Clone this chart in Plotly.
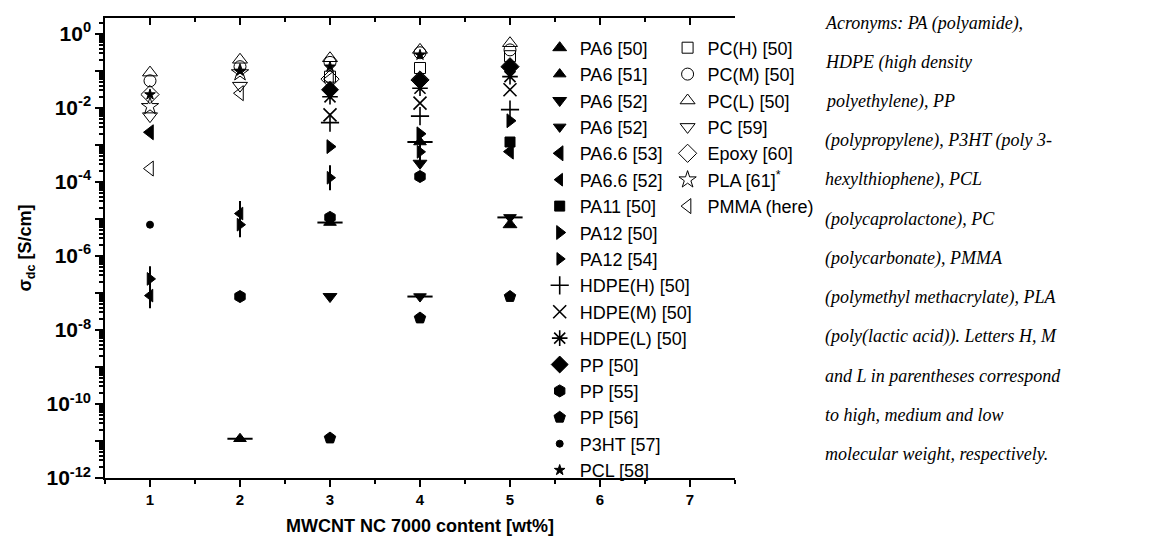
import plotly.graph_objects as go

# ---------------- data (x = wt%, y = S/cm) ----------------
PA6_50_x, PA6_50_y = [5], [7e-6]
PA6_51_x, PA6_51_y = [2, 3, 4], [1.15e-11, 8e-6, 1.2e-3]
PA6_52a_x, PA6_52a_y = [3, 4], [8e-8, 3.2e-4]
PA6_52b_x, PA6_52b_y = [4, 5], [8e-8, 1.1e-5]
PA66_53_x, PA66_53_y = [1, 5], [2.2e-3, 6.6e-4]
PA66_52_x, PA66_52_y = [1, 2], [8.5e-8, 1.4e-5]
PA11_50_x, PA11_50_y = [5], [1.2e-3]
PA12_50_x, PA12_50_y = [3, 4, 5], [9e-4, 2e-3, 4.5e-3]
PA12_54_x, PA12_54_y = [1, 2, 3, 4], [2.4e-7, 7e-6, 1.3e-4, 6.5e-4]
HDPE_H_x, HDPE_H_y = [3, 4, 5], [4e-3, 6e-3, 9e-3]
HDPE_M_x, HDPE_M_y = [3, 4, 5], [6.5e-3, 1.35e-2, 3.1e-2]
HDPE_L_x, HDPE_L_y = [3, 4, 5], [2e-2, 3.4e-2, 7e-2]
PP_50_x, PP_50_y = [3, 4, 5], [3.1e-2, 5.7e-2, 1.3e-1]
PP_55_x, PP_55_y = [2, 3, 4], [8e-8, 1.1e-5, 1.4e-4]
PP_56_x, PP_56_y = [3, 4, 5], [1.2e-11, 2.1e-8, 8e-8]
P3HT_57_x, P3HT_57_y = [1], [7e-6]
PCL_58_x, PCL_58_y = [1, 2, 3, 4], [2.3e-2, 1.0e-1, 1.3e-1, 2.7e-1]
PC_H_x, PC_H_y = [3, 4, 5], [7e-2, 1.2e-1, 2.5e-1]
PC_M_x, PC_M_y = [1, 2, 3, 4, 5], [5.4e-2, 1.3e-1, 1.7e-1, 3.1e-1, 3.7e-1]
PC_L_x, PC_L_y = [1, 2, 3, 4, 5], [9e-2, 2.0e-1, 2.2e-1, 3.7e-1, 5.6e-1]
PC_59_x, PC_59_y = [1, 2], [6e-3, 4e-2]
EPOXY_60_x, EPOXY_60_y = [1, 3, 4, 5], [2.3e-2, 6e-2, 5.7e-2, 1.3e-1]
PLA_61_x, PLA_61_y = [1, 2], [1.1e-2, 9e-2]
PMMA_x, PMMA_y = [1, 2, 3], [2.3e-4, 2.5e-2, 6e-2]

# legend column 1 / column 2
leg1 = [
    ("PA6 [50]", PA6_50_x, PA6_50_y, "triangle-up", 12, None),
    ("PA6 [51]", PA6_51_x, PA6_51_y, "triangle-up", 11, "line-ew"),
    ("PA6 [52]", PA6_52a_x, PA6_52a_y, "triangle-down", 12, None),
    ("PA6 [52]", PA6_52b_x, PA6_52b_y, "triangle-down", 11, "line-ew"),
    ("PA6.6 [53]", PA66_53_x, PA66_53_y, "triangle-left", 13, None),
    ("PA6.6 [52]", PA66_52_x, PA66_52_y, "triangle-left", 11, "line-ns"),
    ("PA11 [50]", PA11_50_x, PA11_50_y, "square", 10, None),
    ("PA12 [50]", PA12_50_x, PA12_50_y, "triangle-right", 12, None),
    ("PA12 [54]", PA12_54_x, PA12_54_y, "triangle-right", 11, "line-ns"),
    ("HDPE(H) [50]", HDPE_H_x, HDPE_H_y, "cross-thin-open", 13, None),
    ("HDPE(M) [50]", HDPE_M_x, HDPE_M_y, "x-thin-open", 13, None),
    ("HDPE(L) [50]", HDPE_L_x, HDPE_L_y, "asterisk-open", 13, None),
    ("PP [50]", PP_50_x, PP_50_y, "diamond", 13, None),
    ("PP [55]", PP_55_x, PP_55_y, "hexagon", 12, None),
    ("PP [56]", PP_56_x, PP_56_y, "pentagon", 12, None),
    ("P3HT [57]", P3HT_57_x, P3HT_57_y, "circle", 7, None),
    ("PCL [58]", PCL_58_x, PCL_58_y, "star", 8, None),
]
leg2 = [
    ("PC(H) [50]", PC_H_x, PC_H_y, "square-open", 11, None),
    ("PC(M) [50]", PC_M_x, PC_M_y, "circle-open", 12, None),
    ("PC(L) [50]", PC_L_x, PC_L_y, "triangle-up-open", 13, None),
    ("PC [59]", PC_59_x, PC_59_y, "triangle-down-open", 13, None),
    ("Epoxy [60]", EPOXY_60_x, EPOXY_60_y, "diamond-open", 14, None),
    ("PLA [61]<sup>*</sup>", PLA_61_x, PLA_61_y, "star-open", 13, None),
    ("PMMA (here)", PMMA_x, PMMA_y, "triangle-left-open", 13, None),
]

fig = go.Figure()
for legname, items in (("legend", leg1), ("legend2", leg2)):
    for i, (name, xs, ys, sym, size, extra) in enumerate(items):
        grp = f"{legname}_{i}"
        lw = 1.6 if "thin" in sym or "asterisk" in sym else 1
        fig.add_trace(go.Scatter(
            x=xs, y=ys, mode="markers", name=name, legend=legname, legendgroup=grp,
            marker=dict(symbol=sym, size=size, color="black",
                        line=dict(color="black", width=lw)),
        ))
        if extra:
            fig.add_trace(go.Scatter(
                x=xs, y=ys, mode="markers", showlegend=False, legendgroup=grp,
                marker=dict(symbol=extra, size=size + 7,
                            line=dict(color="black", width=2)),
            ))

# page body has an 8px margin: compensate so the plot area sits at x 105..735, y 18..478
L, T = 97, 10
PW, PH = 630, 460
decades = list(range(0, -13, -1))
tickvals = [10.0 ** d for d in decades]
ticktext = [f"<b>10<sup>{d}</sup></b>" if d % 2 == 0 else "" for d in decades]

fig.update_layout(
    width=1172, height=540,
    margin=dict(l=L, r=1172 - L - PW, t=T, b=540 - T - PH),
    plot_bgcolor="white", paper_bgcolor="white",
    font=dict(family="Liberation Sans, Arial", color="black"),
    xaxis=dict(range=[0.5, 7.5], tickvals=[1, 2, 3, 4, 5, 6, 7],
               ticktext=[f"<b>{v}</b>" for v in range(1, 8)],
               ticks="outside", ticklen=7, tickwidth=1.5, tickcolor="black",
               minor=dict(dtick=0.5, tick0=0.5, ticks="outside", ticklen=4, tickcolor="black"),
               showline=True, linecolor="black", linewidth=1.5, showgrid=False, zeroline=False,
               tickfont=dict(size=15), automargin=False,
               title=dict(text="<b>MWCNT NC 7000 content [wt%]</b>", font=dict(size=18), standoff=13)),
    xaxis2=dict(range=[0.5, 7.5], overlaying="x", side="top", tickvals=[1, 2, 3, 4, 5, 6, 7],
                showticklabels=False, ticks="inside", ticklen=7, tickwidth=1.5, tickcolor="black",
                minor=dict(dtick=0.5, tick0=0.5, ticks="inside", ticklen=4, tickcolor="black"),
                showline=True, linecolor="black", linewidth=1.5, showgrid=False, zeroline=False,
                automargin=False),
    yaxis=dict(type="log", range=[-12, 0.43], tickvals=tickvals, ticktext=ticktext,
               ticks="outside", ticklen=8, tickwidth=1.5, tickcolor="black",
               minor=dict(dtick="D1", ticks="outside", ticklen=4, tickcolor="black"),
               showline=True, linecolor="black", linewidth=1.5, showgrid=False, zeroline=False,
               tickfont=dict(size=21), automargin=False,
               title=dict(text="<b>σ<sub>dc</sub> [S/cm]</b>", font=dict(size=18), standoff=10)),
    legend=dict(x=0.690, y=0.975, xanchor="left", yanchor="top", bgcolor="rgba(0,0,0,0)",
                font=dict(size=18, family="Liberation Sans, Arial"), tracegroupgap=0,
                itemsizing="trace"),
    legend2=dict(x=0.893, y=0.975, xanchor="left", yanchor="top", bgcolor="rgba(0,0,0,0)",
                 font=dict(size=18, family="Liberation Sans, Arial"), tracegroupgap=0,
                 itemsizing="trace"),
)
# invisible trace to activate the top (mirror) axis
fig.add_trace(go.Scatter(x=[1], y=[1e-20], xaxis="x2", mode="markers", showlegend=False,
                         hoverinfo="skip", marker=dict(opacity=0)))

notes = [
    "Acronyms: PA (polyamide),",
    "HDPE (high density",
    "polyethylene), PP",
    "(polypropylene), P3HT (poly 3-",
    "hexylthiophene), PCL",
    "(polycaprolactone), PC",
    "(polycarbonate), PMMA",
    "(polymethyl methacrylate), PLA",
    "(poly(lactic acid)). Letters H, M",
    "and L in parentheses correspond",
    "to high, medium and low",
    "molecular weight, respectively.",
]
for i, line in enumerate(notes):
    ypix = 23 + i * 39.2
    fig.add_annotation(x=(823 - 105) / PW, y=(478 - ypix) / PH, xref="paper", yref="paper",
                       xanchor="left", yanchor="middle", showarrow=False, text=line,
                       font=dict(family="Liberation Serif, Times New Roman", size=18,
                                 color="black", style="italic"))

fig.write_html("out.html")
